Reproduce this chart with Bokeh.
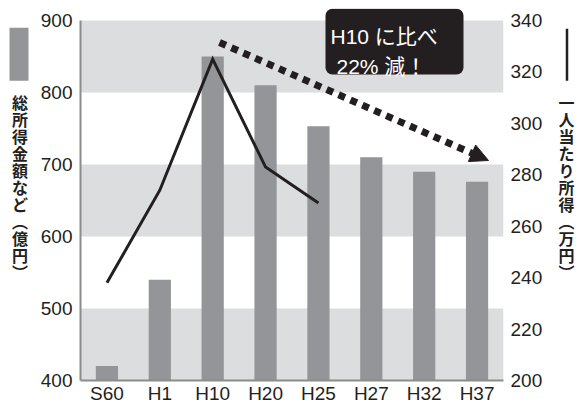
from bokeh.plotting import figure
from bokeh.layouts import row
from bokeh.models import (FactorRange, Range1d, LinearAxis, FixedTicker, BoxAnnotation,
                          Label, Arrow, NormalHead, ColumnDataSource)
from bokeh.core.properties import value
from bokeh.embed import file_html
from bokeh.resources import INLINE

# ---------------- data ----------------
categories = ["S60", "H1", "H10", "H20", "H25", "H27", "H32", "H37"]
total_income = [420, 540, 850, 810, 753, 710, 690, 676]          # 総所得金額など（億円）
per_capita_categories = ["S60", "H1", "H10", "H20", "H25"]
per_capita = [238, 274, 325, 283, 269]                            # 一人当たり所得（万円）
left_ticks = [400, 500, 600, 700, 800, 900]
right_ticks = [200, 220, 240, 260, 280, 300, 320, 340]
left_title = "総所得金額など︵億円︶"
right_title = "一人当たり所得︵万円︶"
note_lines = ["H10 に比べ", "22% 減！"]

# ---------------- layout (page pixels) ----------------
W, H = 578, 403
LEFT_W, RIGHT_X = 30, 548
FR_L, FR_R, FR_T, FR_B = 80, 503, 8, 380
Y_TOP_PX = 20
L0, L1 = left_ticks[0], left_ticks[-1]
R0, R1 = right_ticks[0], right_ticks[-1]
px_per_l = (FR_B - Y_TOP_PX) / (L1 - L0)
px_per_r = (FR_B - Y_TOP_PX) / (R1 - R0)
l_end = L0 + (FR_B - FR_T) / px_per_l
r_end = R0 + (FR_B - FR_T) / px_per_r
cat_w = (FR_R - FR_L) / len(categories)


def dx(px):
    return (px - FR_L) / cat_w


def dy(py):
    return L0 + (FR_B - py) / px_per_l


DARK = "#231f20"
BAR = "#939598"
BAND = "#dcddde"
AXIS = "#8c8c8c"
NUM_FONT = "Liberation Sans"
JP_FONT = "'Noto Sans CJK JP', sans-serif"
MIX_FONT = "'Liberation Sans', 'Noto Sans CJK JP', sans-serif"


def side_panel(x0, x1):
    f = figure(width=x1 - x0, height=H, x_range=Range1d(x0, x1), y_range=Range1d(H, 0),
               x_axis_type=None, y_axis_type=None, min_border=0,
               output_backend="svg", toolbar_location=None,
               background_fill_color="white", border_fill_color="white",
               outline_line_color=None)
    f.xgrid.visible = False
    f.ygrid.visible = False
    return f


def vertical_text(f, x, chars):
    pitch = 18.5
    f.text(x=[x] * len(chars), y=[93 + pitch * (i + 0.5) for i in range(len(chars))],
           text=list(chars), text_align="center", text_baseline="middle",
           text_font=value(JP_FONT), text_font_size="16px", text_font_style="bold",
           text_color=DARK)


# ---- left panel: legend swatch + title ----
pl = side_panel(0, LEFT_W)
pl.quad(left=[9], right=[28], top=[21], bottom=[79], fill_color=BAR, line_color=None)
vertical_text(pl, 19.5, left_title)

# ---- right panel: legend line + title ----
pr = side_panel(RIGHT_X, W)
pr.segment(x0=[566.5], y0=[22], x1=[566.5], y1=[79], line_color=DARK, line_width=2.5)
vertical_text(pr, 566, right_title)

# ---- main chart ----
p = figure(x_range=FactorRange(*categories), y_range=Range1d(L0, l_end),
           frame_width=FR_R - FR_L, frame_height=FR_B - FR_T,
           min_border_left=FR_L - LEFT_W, min_border_right=RIGHT_X - FR_R,
           min_border_top=FR_T, min_border_bottom=H - FR_B,
           output_backend="svg", toolbar_location=None,
           background_fill_color="white", border_fill_color="white",
           outline_line_color=None)
p.extra_y_ranges = {"right": Range1d(R0, r_end)}
p.xgrid.visible = False
p.ygrid.visible = False

# background bands
for i in range(0, len(left_ticks) - 1, 2):
    p.add_layout(BoxAnnotation(bottom=left_ticks[i], top=left_ticks[i + 1],
                               fill_color=BAND, fill_alpha=1, line_color=None,
                               level="underlay"))

# bars
src = ColumnDataSource(dict(cat=categories, val=total_income))
p.vbar(x="cat", top="val", bottom=L0, width=0.42, source=src,
       fill_color=BAR, line_color=None)

# per-capita line
p.line(x=per_capita_categories, y=per_capita, y_range_name="right",
       line_color=DARK, line_width=3, line_join="miter")

# dotted arrow
p.add_layout(Arrow(x_start=dx(219), y_start=dy(42), x_end=dx(488), y_end=dy(160),
                   line_color=DARK, line_width=7, line_dash="7 6",
                   end=NormalHead(size=18, fill_color=DARK, line_color=DARK)))

# note box
p.add_layout(BoxAnnotation(left=dx(325), right=dx(463), top=dy(8.3), bottom=dy(74),
                           fill_color=DARK, fill_alpha=1, line_color=None,
                           border_radius=7))
p.add_layout(Label(x=dx(330), y=dy(36), text=note_lines[0], text_color="white",
                   text_font=MIX_FONT, text_font_size="21px",
                   text_align="left", text_baseline="alphabetic"))
p.add_layout(Label(x=dx(336), y=dy(66), text=note_lines[1], text_color="white",
                   text_font=MIX_FONT, text_font_size="21px",
                   text_align="left", text_baseline="alphabetic"))

# axes
ax_l = p.yaxis[0]
ax_l.ticker = FixedTicker(ticks=left_ticks)
ax_l.bounds = (L0, L1)
ax_r = LinearAxis(y_range_name="right", ticker=FixedTicker(ticks=right_ticks),
                  bounds=(R0, R1))
p.add_layout(ax_r, "right")
for ax in (ax_l, ax_r, p.xaxis[0]):
    ax.major_tick_line_color = None
    ax.minor_tick_line_color = None
    ax.major_tick_out = 0
    ax.major_tick_in = 0
    ax.minor_tick_out = 0
    ax.minor_tick_in = 0
    ax.major_label_text_font = NUM_FONT
    ax.major_label_text_font_size = "19px"
    ax.major_label_text_color = DARK
    ax.axis_line_color = AXIS
    ax.axis_line_width = 2
ax_r.axis_line_color = None
ax_l.major_label_standoff = 8
ax_r.major_label_standoff = 7
p.xaxis[0].major_label_standoff = 2

layout = row(pl, p, pr, spacing=0)
open("out.html", "w").write(file_html(layout, INLINE))
